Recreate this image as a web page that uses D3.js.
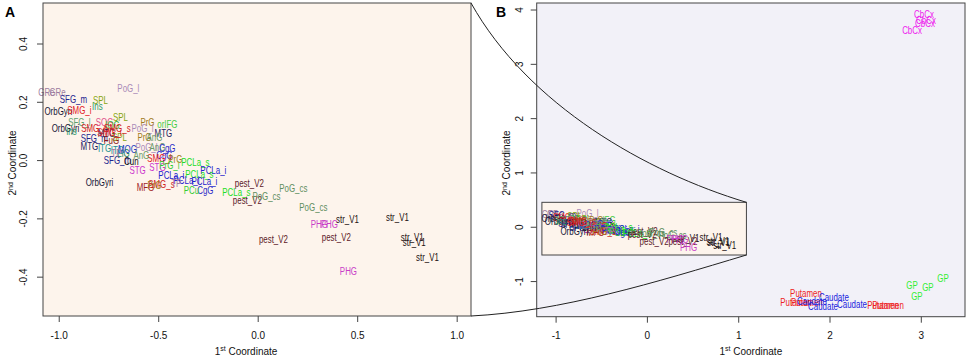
<!DOCTYPE html>
<html>
<head>
<meta charset="utf-8">
<script src="https://cdn.jsdelivr.net/npm/d3@7"></script>
<style>
  body { margin: 0; background: #fff; }
  svg { display: block; font-family: "Liberation Sans", Arial, sans-serif; }
</style>
</head>
<body>
<div id="chart"></div>
<script>
// ━━━━━━━━━━━━━━━━━━━━━━━━━━━━━━━━━━━━━━━━━━━━━━━━━━━━━━━━━━━━━━━━━━━━━━━━━━━━━
// Data (MDS coordinates) ////////////////////////////////////
// ━━━━━━━━━━━━━━━━━━━━━━━━━━━━━━━━━━━━━━━━━━━━━━━━━━━━━━━━━━━━━━━━━━━━━━━━━━━━━

const regionNames = ['GRe', 'SFG_m', 'SFG_l', 'PoG_l', 'OrbGyri', 'SMG_i', 'SMG_s', 'SPL', 'Ins', 'SOG', 'MTG', 'ITG',
  'IOG', 'MOG', 'FuG', 'Cun', 'LiG', 'TP', 'PrG', 'PrG_i', 'orIFG', 'AnG', 'CgG', 'PCLa_s', 'PCLa_i', 'STG', 'PCu', 'MFG',
  'pest_V2', 'PoG_cs', 'str_V1', 'PHG', 'CbCx', 'GP', 'Putamen', 'Caudate'];

// cortical samples (panel A, and the inset of panel B)
const cortexLabels = ['GRe', 'GRe', 'SFG_m', 'PoG_l', 'OrbGyri', 'SMG_i', 'SPL', 'Ins', 'SPL', 'SFG_l',
  'OrbGyri', 'SMG_s', 'SOG', 'MTG', 'SFG_m', 'MTG', 'SPL', 'ITG', 'SFG_m', 'Cun',
  'LiG', 'PrG', 'orIFG', 'PoG_l', 'MTG', 'PrG', 'AnG', 'PoG_l', 'AnG', 'CgG',
  'CgG', 'SMG_i', 'PrG', 'PCLa_s', 'PCLa_i', 'STG', 'STG', 'PrG_i', 'PCLa_i', 'PCLa_s',
  'PCLa_i', 'PCLa_i', 'CgG', 'PCu', 'MFG', 'SMG_s', 'TP', 'OrbGyri', 'PrG', 'pest_V2',
  'PCLa_s', 'pest_V2', 'PoG_cs', 'PoG_cs', 'PoG_cs', 'str_V1', 'PHG', 'PHG', 'pest_V2', 'pest_V2',
  'PHG', 'str_V1', 'str_V1', 'str_V1', 'str_V1', 'IOG', 'FuG', 'Ins', 'ITG', 'MOG',
  'TP', 'AnG', 'SMG_i', 'SMG_s'];
const cortexX = [-1.062, -1.006, -0.926, -0.650, -1.002, -0.896, -0.790, -0.806, -0.690, -0.896,
  -0.966, -0.821, -0.770, -0.760, -0.821, -0.846, -0.695, -0.770, -0.705, -0.635,
  -0.675, -0.554, -0.454, -0.579, -0.474, -0.569, -0.519, -0.559, -0.504, -0.454,
  -0.469, -0.494, -0.414, -0.313, -0.223, -0.604, -0.504, -0.444, -0.434, -0.293,
  -0.268, -0.358, -0.263, -0.333, -0.564, -0.484, -0.409, -0.795, -0.519, -0.042,
  -0.107, -0.052, 0.044, 0.179, 0.280, 0.451, 0.310, 0.360, 0.079, 0.395,
  0.456, 0.702, 0.777, 0.787, 0.853, -0.730, -0.735, -0.936, -0.705, -0.655,
  -0.710, -0.585, -0.745, -0.705];
const cortexY = [0.233, 0.233, 0.209, 0.247, 0.168, 0.172, 0.206, 0.185, 0.148, 0.130,
  0.110, 0.110, 0.130, 0.093, 0.075, 0.048, 0.079, 0.041, 0.000, -0.003,
  0.024, 0.130, 0.124, 0.110, 0.093, 0.079, 0.079, 0.045, 0.045, 0.041,
  0.017, 0.007, 0.003, -0.007, -0.034, -0.034, -0.024, -0.017, -0.051, -0.048,
  -0.072, -0.069, -0.103, -0.103, -0.093, -0.082, -0.079, -0.075, -0.086, -0.079,
  -0.110, -0.137, -0.123, -0.096, -0.161, -0.202, -0.220, -0.220, -0.271, -0.264,
  -0.381, -0.196, -0.264, -0.281, -0.333, 0.120, 0.069, 0.099, 0.034, 0.038,
  0.024, 0.017, 0.096, 0.110];

// cerebellar and basal ganglia samples (panel B only)
const deepLabels = ['CbCx', 'CbCx', 'CbCx', 'CbCx', 'GP', 'GP', 'GP', 'GP',
  'Putamen', 'Putamen', 'Putamen', 'Putamen', 'Putamen', 'Caudate', 'Caudate', 'Caudate', 'Caudate'];
const deepX = [3.035, 3.057, 3.046, 2.904, 2.903, 3.078, 3.243, 2.957,
  1.742, 1.635, 1.752, 2.586, 2.641, 2.048, 1.929, 1.807, 2.247];
const deepY = [3.919, 3.808, 3.753, 3.624, -1.072, -1.109, -0.943, -1.274,
  -1.215, -1.381, -1.381, -1.440, -1.440, -1.293, -1.459, -1.367, -1.422];

const ticksAx = [-1.0, -0.5, 0.0, 0.5, 1.0];
const ticksAy = [-0.4, -0.2, 0.0, 0.2, 0.4];
const ticksBx = [-1, 0, 1, 2, 3];
const ticksBy = [-1, 0, 1, 2, 3, 4];

// zoom window drawn in panel B: [xmin, xmax, ymin, ymax]
const insetBox = [-1.15, 1.09, -0.52, 0.45];

// ━━━━━━━━━━━━━━━━━━━━━━━━━━━━━━━━━━━━━━━━━━━━━━━━━━━━━━━━━━━━━━━━━━━━━━━━━━━━━
// Styles ////////////////////////////////////////////////////////////////////////
// ━━━━━━━━━━━━━━━━━━━━━━━━━━━━━━━━━━━━━━━━━━━━━━━━━━━━━━━━━━━━━━━━━━━━━━━━━━━━━

const palette = ['#9b7b9e', '#23238e', '#5e9e6e', '#a98ab8', '#151535', '#e31a1c', '#d02020', '#86a40e', '#2a9a6a', '#e0508a', '#1a1a60', '#209090',
  '#30b030', '#2040c0', '#8b1a1a', '#101010', '#208060', '#a07aa0', '#a07a20', '#33cc33', '#44cc44', '#6a9a6a', '#2b2bc8', '#22dd22', '#2222cc', '#cc33cc', '#33cc33', '#a01c1c',
  '#5c1a28', '#5e8e5e', '#1c1010', '#c83cc8', '#ee22ee', '#33ee33', '#ee2222', '#2222dd'];
const color = d3.scaleOrdinal().domain(regionNames).range(palette);

const width = 970;
const height = 360;
const bgA = '#fdf4ec';
const bgB = '#f2f1f8';
const boxStroke = '#444';

const svg = d3.select('#chart').append('svg')
  .attr('viewBox', [0, 0, width, height])
  .attr('width', width)
  .attr('height', height);

// ━━━━━━━━━━━━━━━━━━━━━━━━━━━━━━━━━━━━━━━━━━━━━━━━━━━━━━━━━━━━━━━━━━━━━━━━━━━━━
// Scales ////////////////////////////////////////////////////////////////////////
// ━━━━━━━━━━━━━━━━━━━━━━━━━━━━━━━━━━━━━━━━━━━━━━━━━━━━━━━━━━━━━━━━━━━━━━━━━━━━━

const xA = d3.scaleLinear().domain([-1.079, 1.072]).range([43, 471]);
const yA = d3.scaleLinear().domain([-0.535, 0.539]).range([316, 3]);
const xB = d3.scaleLinear().domain([-1.207, 3.484]).range([536.7, 965]);
const yB = d3.scaleLinear().domain([-1.656, 4.12]).range([316.7, 3]);

const fmt1 = d => d.toFixed(1);
const fmt0 = d => d.toFixed(0);

function frame(x, y, fill) {
  svg.append('rect')
    .attr('x', x.range()[0]).attr('y', y.range()[1])
    .attr('width', x.range()[1] - x.range()[0])
    .attr('height', y.range()[0] - y.range()[1])
    .attr('fill', fill);
}

function box(x, y) {
  svg.append('rect')
    .attr('x', x.range()[0]).attr('y', y.range()[1])
    .attr('width', x.range()[1] - x.range()[0])
    .attr('height', y.range()[0] - y.range()[1])
    .attr('fill', 'none')
    .attr('stroke', boxStroke)
    .attr('stroke-width', 1);
}

function axes(x, y, tx, ty, fx, fy, yLabelOff, yTitleX, xTitleX) {
  const gx = svg.append('g')
    .attr('transform', `translate(0,${y.range()[0]})`)
    .call(d3.axisBottom(x).tickValues(tx).tickFormat(fx).tickSize(6).tickSizeOuter(0));
  gx.select('.domain').remove();
  gx.selectAll('line').attr('stroke', boxStroke);
  gx.selectAll('text').attr('y', 22.5).attr('dy', 0)
    .attr('font-size', 10).attr('fill', '#111').attr('font-family', null);

  const gy = svg.append('g')
    .attr('transform', `translate(${x.range()[0]},0)`)
    .call(d3.axisLeft(y).tickValues(ty).tickFormat(fy).tickSize(6).tickSizeOuter(0));
  gy.select('.domain').remove();
  gy.selectAll('line').attr('stroke', boxStroke);
  gy.selectAll('text')
    .attr('x', 0).attr('y', -yLabelOff).attr('dy', 0)
    .attr('transform', 'rotate(-90)')
    .attr('text-anchor', 'middle')
    .attr('font-size', 10).attr('fill', '#111').attr('font-family', null);

  // axis titles
  const t1 = svg.append('text')
    .attr('x', xTitleX).attr('y', 354.5)
    .attr('text-anchor', 'middle')
    .attr('font-size', 10).attr('fill', '#111');
  t1.append('tspan').text('1');
  t1.append('tspan').attr('font-size', 7).attr('dy', -3.5).text('st');
  t1.append('tspan').attr('dy', 3.5).text(' Coordinate');

  const t2 = svg.append('text')
    .attr('transform', `translate(${yTitleX},163) rotate(-90)`)
    .attr('text-anchor', 'middle')
    .attr('font-size', 10).attr('fill', '#111');
  t2.append('tspan').text('2');
  t2.append('tspan').attr('font-size', 7).attr('dy', -3.5).text('nd');
  t2.append('tspan').attr('dy', 3.5).text(' Coordinate');
}

function labels(x, y, names, xs, ys) {
  svg.append('g')
    .selectAll('text')
    .data(names)
    .join('text')
    .attr('transform', (d, i) => `translate(${x(xs[i])},${y(ys[i])}) scale(0.72,1)`)
    .attr('text-anchor', 'middle')
    .attr('dy', '0.36em')
    .attr('font-size', 11)
    .attr('fill', d => color(d))
    .text(d => d);
}

// ━━━━━━━━━━━━━━━━━━━━━━━━━━━━━━━━━━━━━━━━━━━━━━━━━━━━━━━━━━━━━━━━━━━━━━━━━━━━━
// Panel A ///////////////////////////////////////////////////////////////////////
// ━━━━━━━━━━━━━━━━━━━━━━━━━━━━━━━━━━━━━━━━━━━━━━━━━━━━━━━━━━━━━━━━━━━━━━━━━━━━━

frame(xA, yA, bgA);
labels(xA, yA, cortexLabels, cortexX, cortexY);
box(xA, yA);
axes(xA, yA, ticksAx, ticksAy, fmt1, fmt1, 16, 16, 246);

svg.append('text').attr('x', 5).attr('y', 17)
  .attr('font-size', 14).attr('font-weight', 'bold').text('A');

// ━━━━━━━━━━━━━━━━━━━━━━━━━━━━━━━━━━━━━━━━━━━━━━━━━━━━━━━━━━━━━━━━━━━━━━━━━━━━━
// Panel B ///////////////////////////////////////////////////////////////////////
// ━━━━━━━━━━━━━━━━━━━━━━━━━━━━━━━━━━━━━━━━━━━━━━━━━━━━━━━━━━━━━━━━━━━━━━━━━━━━━

frame(xB, yB, bgB);

svg.append('rect')
  .attr('x', xB(insetBox[0])).attr('y', yB(insetBox[3]))
  .attr('width', xB(insetBox[1]) - xB(insetBox[0]))
  .attr('height', yB(insetBox[2]) - yB(insetBox[3]))
  .attr('fill', bgA)
  .attr('stroke', boxStroke)
  .attr('stroke-width', 1);

labels(xB, yB, cortexLabels, cortexX, cortexY);
labels(xB, yB, deepLabels, deepX, deepY);
box(xB, yB);
axes(xB, yB, ticksBx, ticksBy, fmt0, fmt0, 13.5, 510, xB.range()[0] + (xB.range()[1] - xB.range()[0]) / 2);

svg.append('text').attr('x', 496).attr('y', 17)
  .attr('font-size', 14).attr('font-weight', 'bold').text('B');

// Zoom connectors: corners of panel A to the corners of the inset ///////////////

function connector(p0, p3, f1, f2) {
  const dx = p3[0] - p0[0], dy = p3[1] - p0[1];
  const p = d3.path();
  p.moveTo(p0[0], p0[1]);
  p.bezierCurveTo(p0[0] + f1[0] * dx, p0[1] + f1[1] * dy,
                  p0[0] + f2[0] * dx, p0[1] + f2[1] * dy,
                  p3[0], p3[1]);
  svg.append('path').attr('d', p.toString())
    .attr('fill', 'none').attr('stroke', '#222').attr('stroke-width', 1);
}

connector([xA.range()[1], yA.range()[1]], [xB(insetBox[1]), yB(insetBox[3])], [0.207, 0.512], [0.637, 0.849]);
connector([xA.range()[1], yA.range()[0]], [xB(insetBox[1]), yB(insetBox[2])], [0.326, 0.074], [0.674, 0.557]);
</script>
</body>
</html>
